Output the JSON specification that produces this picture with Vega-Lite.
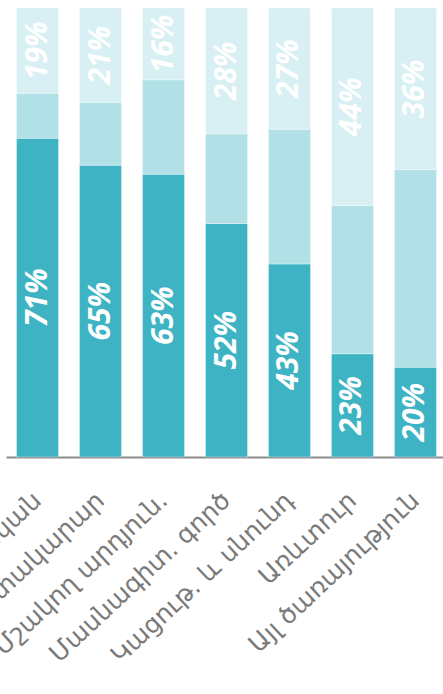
{
  "$schema": "https://vega.github.io/schema/vega-lite/v6.json",
  "autosize": "none",
  "padding": {"left": 6, "top": 8, "right": 0, "bottom": 237},
  "width": 441,
  "height": 449,
  "background": "white",
  "config": {"view": {"stroke": null}},
  "data": {
    "values": [
      {"cat": "Ֆինանսական", "seg": "s1", "value": 71},
      {"cat": "Ֆինանսական", "seg": "s2", "value": 10},
      {"cat": "Ֆինանսական", "seg": "s3", "value": 19},
      {"cat": "Էլեկտրամատակարար", "seg": "s1", "value": 65},
      {"cat": "Էլեկտրամատակարար", "seg": "s2", "value": 14},
      {"cat": "Էլեկտրամատակարար", "seg": "s3", "value": 21},
      {"cat": "Մշակող արդյուն.", "seg": "s1", "value": 63},
      {"cat": "Մշակող արդյուն.", "seg": "s2", "value": 21},
      {"cat": "Մշակող արդյուն.", "seg": "s3", "value": 16},
      {"cat": "Մասնագիտ. գործ", "seg": "s1", "value": 52},
      {"cat": "Մասնագիտ. գործ", "seg": "s2", "value": 20},
      {"cat": "Մասնագիտ. գործ", "seg": "s3", "value": 28},
      {"cat": "Կացութ. և սնունդ", "seg": "s1", "value": 43},
      {"cat": "Կացութ. և սնունդ", "seg": "s2", "value": 30},
      {"cat": "Կացութ. և սնունդ", "seg": "s3", "value": 27},
      {"cat": "Առևտուր", "seg": "s1", "value": 23},
      {"cat": "Առևտուր", "seg": "s2", "value": 33},
      {"cat": "Առևտուր", "seg": "s3", "value": 44},
      {"cat": "Այլ ծառայություն", "seg": "s1", "value": 20},
      {"cat": "Այլ ծառայություն", "seg": "s2", "value": 44},
      {"cat": "Այլ ծառայություն", "seg": "s3", "value": 36}
    ]
  },
  "encoding": {
    "x": {
      "field": "cat",
      "type": "nominal",
      "sort": null,
      "scale": {"paddingInner": 0.333, "paddingOuter": 0.1667},
      "axis": {
        "title": null,
        "labelAngle": -43,
        "labelAlign": "right",
        "labelBaseline": "middle",
        "labelFont": "DejaVu Sans",
        "labelFontSize": 25,
        "labelColor": "#7a7a7a",
        "labelPadding": 39,
        "ticks": false,
        "domainColor": "#8c8c8c",
        "domainWidth": 2,
        "labelOverlap": false,
        "labelLimit": 0
      }
    },
    "y": {
      "field": "value",
      "type": "quantitative",
      "stack": "zero",
      "scale": {"domain": [0, 100], "nice": false},
      "axis": null
    },
    "order": {"field": "seg", "sort": "ascending"}
  },
  "layer": [
    {
      "mark": {"type": "bar", "stroke": "white", "strokeOpacity": 0.35, "strokeWidth": 1},
      "encoding": {
        "color": {
          "field": "seg",
          "type": "nominal",
          "scale": {"domain": ["s1", "s2", "s3"], "range": ["#3db3c4", "#b1e0e6", "#d8eff3"]},
          "legend": null
        }
      }
    },
    {
      "mark": {
        "type": "text",
        "angle": 270,
        "align": "center",
        "baseline": "middle",
        "font": "Open Sans",
        "fontSize": 30,
        "fontStyle": "italic",
        "fontWeight": "bold",
        "fill": "#ffffff",
        "text": {"expr": "datum.seg === 's2' ? '' : datum.value + '%'"}
      },
      "encoding": {
        "y": {"field": "value", "type": "quantitative", "stack": "zero", "bandPosition": 0.5}
      }
    }
  ]
}
